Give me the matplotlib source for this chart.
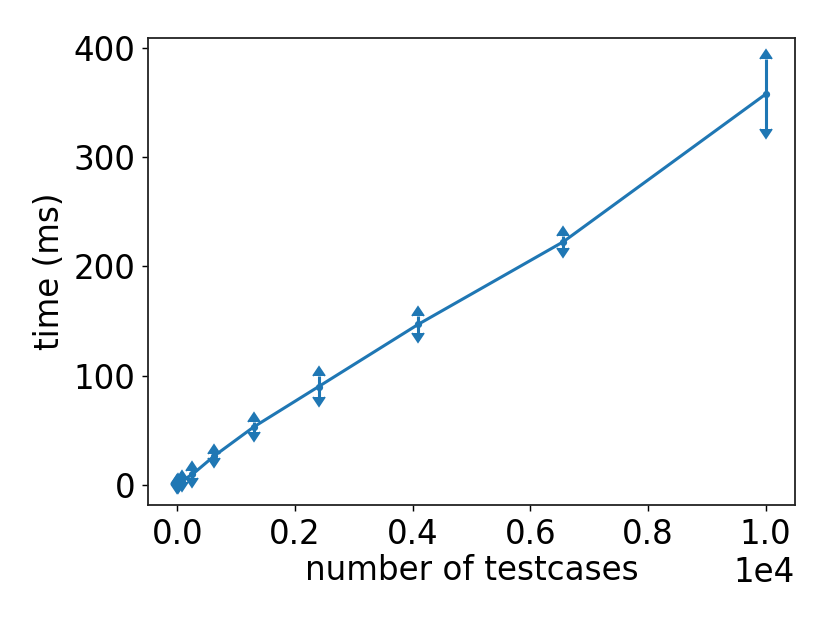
import matplotlib
matplotlib.use("Agg")
import matplotlib.pyplot as plt
import numpy as np

# data
testcases = [1, 16, 81, 256, 625, 1296, 2401, 4096, 6561, 10000]
time_ms = [1.2, 1.6, 4.0, 9.7, 26.5, 53.0, 90.0, 147.0, 222.5, 357.5]
time_err = [0.1, 0.3, 1.0, 3.0, 1.5, 4.5, 9.5, 8.0, 5.5, 32.0]

plt.rcParams['font.size'] = 18
plt.rcParams['axes.linewidth'] = 1.0
plt.rcParams['axes.edgecolor'] = '#222222'
dpi = 130
fig = plt.figure(figsize=(830 / dpi, 623 / dpi), dpi=dpi)
ax = fig.add_axes([148 / 830, 1 - 505 / 623, (795 - 148) / 830, (505 - 38) / 623])

x = np.array(testcases)
y = np.array(time_ms)
e = np.array(time_err)

_, caps1, _ = ax.errorbar(x, y, yerr=e, lolims=True, fmt='.-', color='C0',
                          lw=1.7, elinewidth=1.7, markersize=6)
_, caps2, _ = ax.errorbar(x, y, yerr=e, uplims=True, fmt='none', ecolor='C0',
                          elinewidth=1.7)
for c in list(caps1) + list(caps2):
    c.set_markersize(7)

ax.set_xlabel('number of testcases', labelpad=2)
ax.set_ylabel('time (ms)')
ax.ticklabel_format(axis='x', style='sci', scilimits=(0, 0))
ax.set_yticks([0, 100, 200, 300, 400])

fig.savefig('out.png', dpi=dpi)
